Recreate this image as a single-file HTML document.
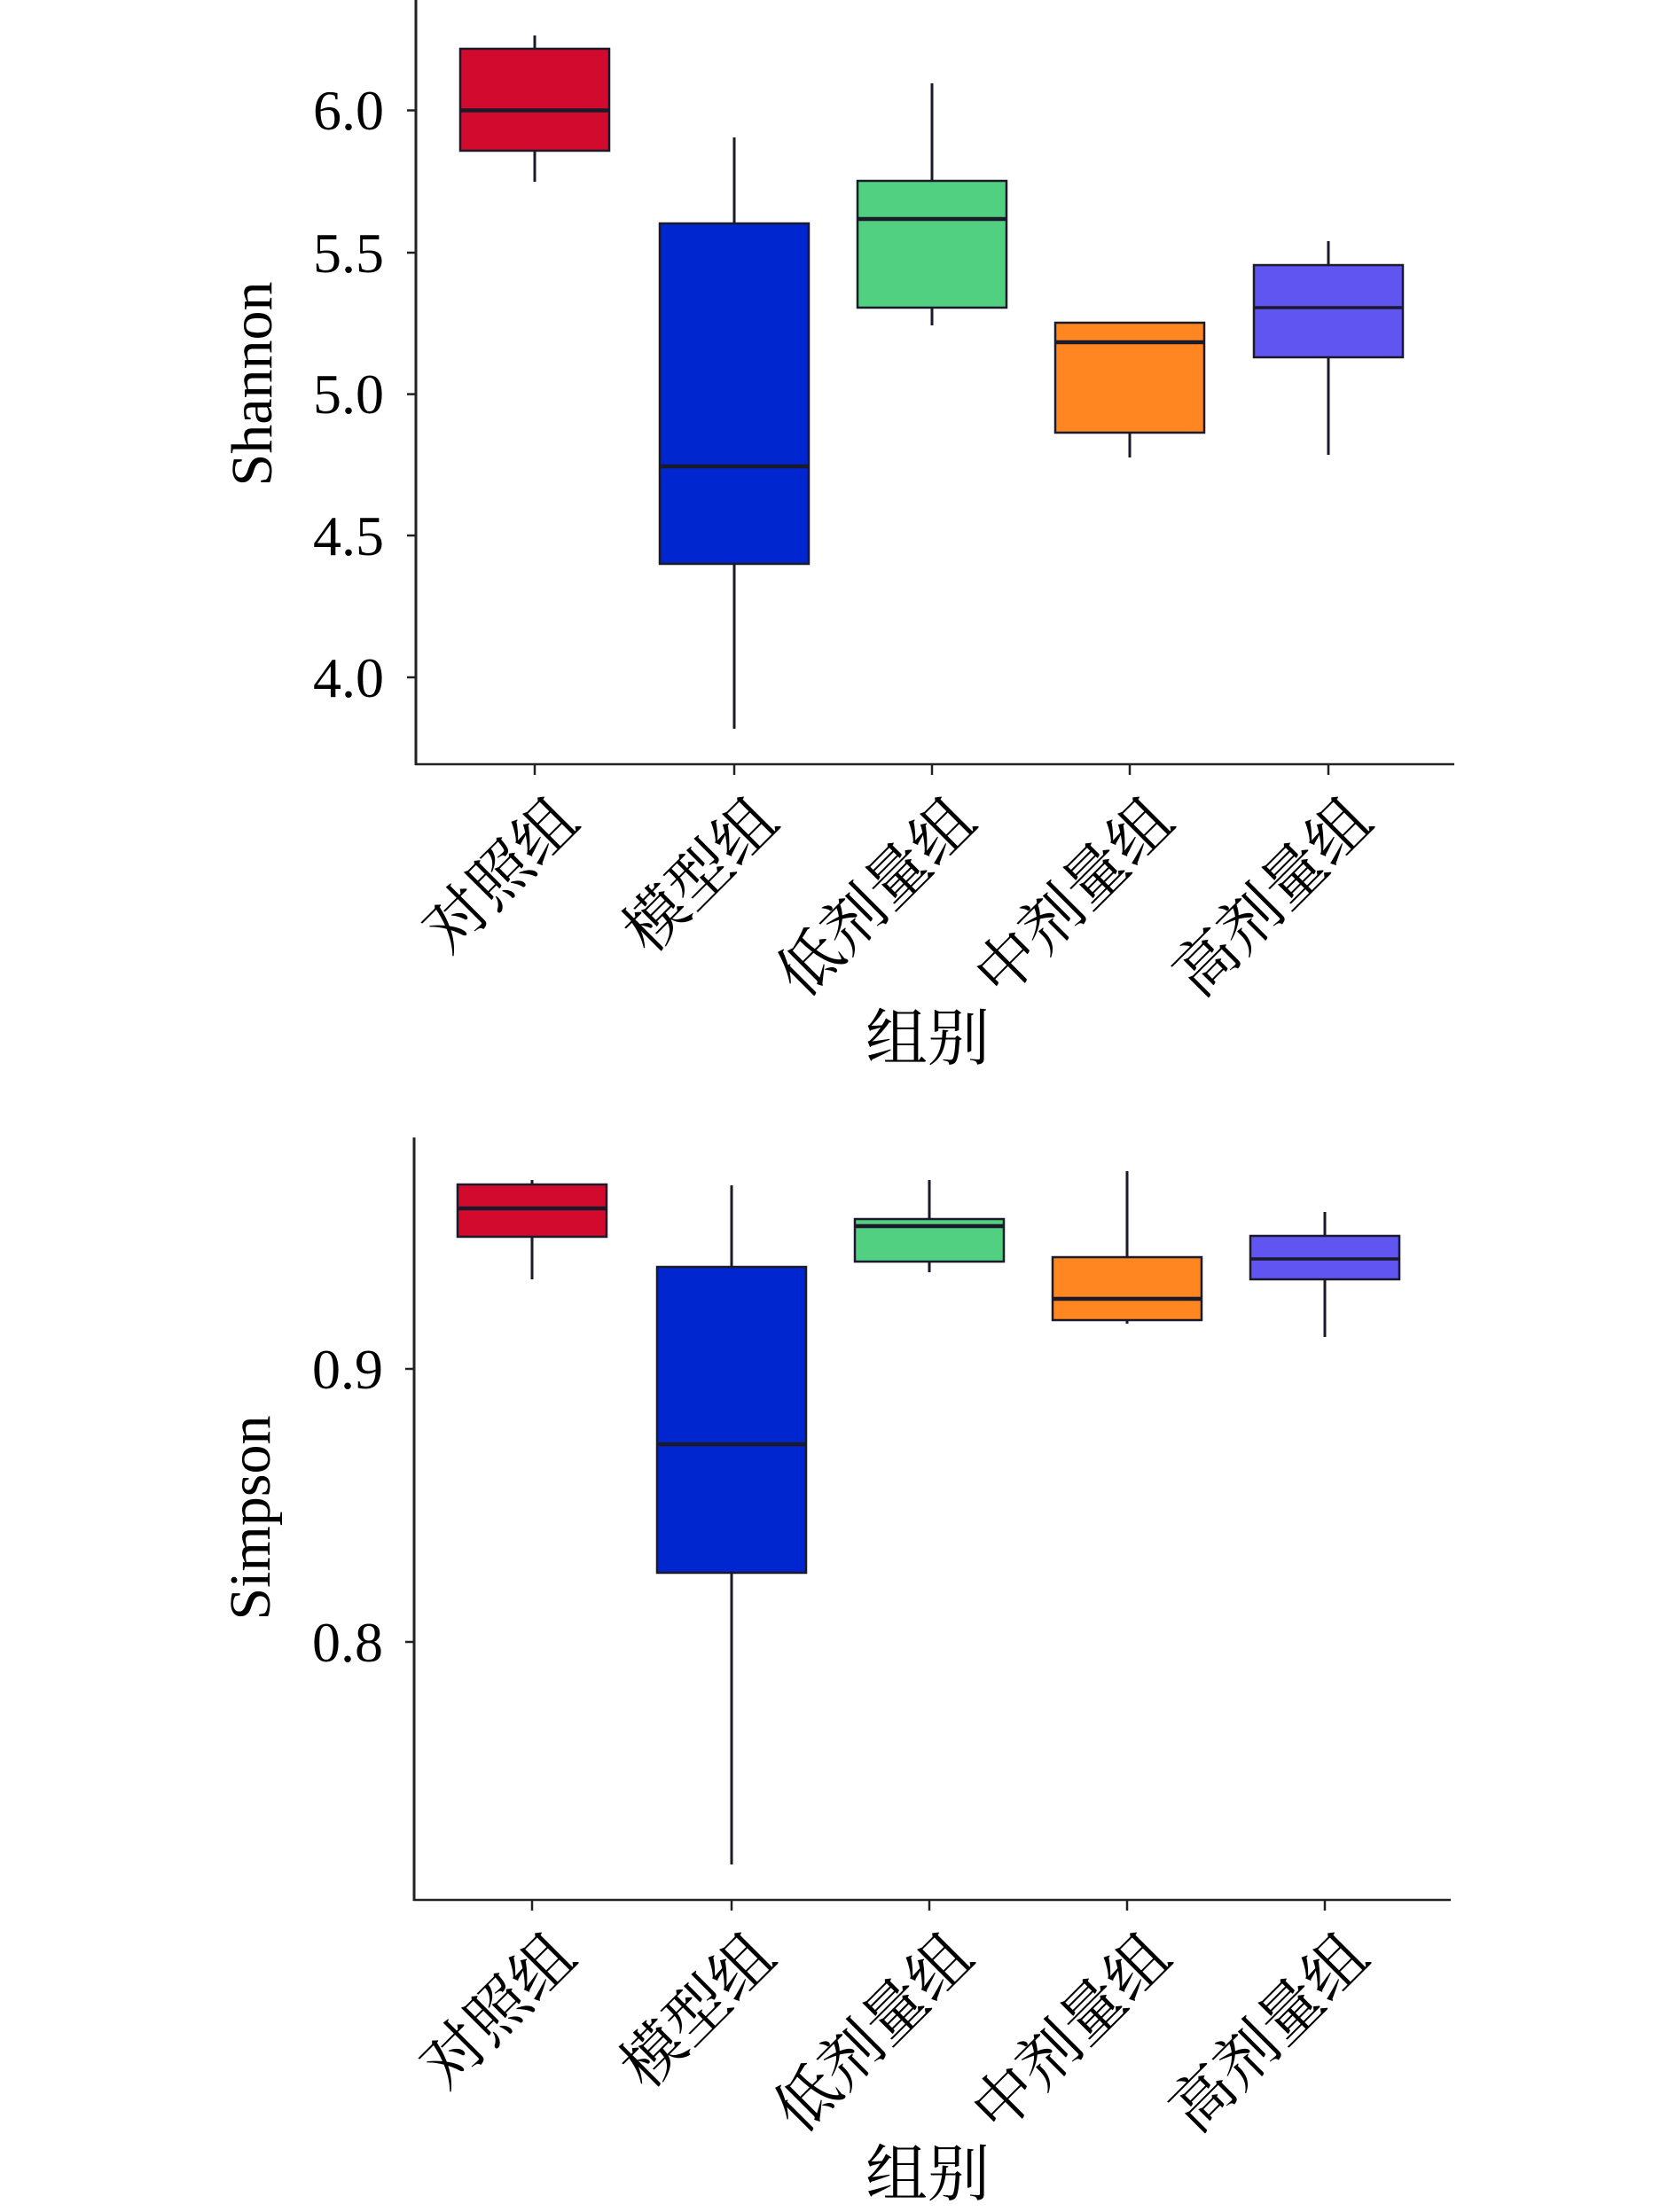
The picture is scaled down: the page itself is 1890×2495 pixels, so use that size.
<!DOCTYPE html>
<html><head><meta charset="utf-8"><style>html,body{margin:0;padding:0;background:#fff}svg{display:block}</style></head><body>
<svg width="1890" height="2495" viewBox="0 0 1890 2495" xmlns="http://www.w3.org/2000/svg">
<g font-family="Liberation Serif, serif" fill="#000">
<!-- TOP -->
<line x1="469" y1="0" x2="469" y2="863" stroke="#222" stroke-width="3"/>
<line x1="468" y1="862" x2="1640" y2="862" stroke="#222" stroke-width="2.5"/>
<g stroke="#222" stroke-width="2.5">
<line x1="459" y1="124.5" x2="469" y2="124.5"/><line x1="459" y1="285" x2="469" y2="285"/><line x1="459" y1="444.6" x2="469" y2="444.6"/><line x1="459" y1="604" x2="469" y2="604"/><line x1="459" y1="764" x2="469" y2="764"/>
<line x1="603" y1="862" x2="603" y2="874"/><line x1="828" y1="862" x2="828" y2="874"/><line x1="1051" y1="862" x2="1051" y2="874"/><line x1="1274" y1="862" x2="1274" y2="874"/><line x1="1498" y1="862" x2="1498" y2="874"/>
</g>
<g font-size="64" text-anchor="end">
<text x="433" y="146">6.0</text><text x="433" y="307">5.5</text><text x="433" y="466">5.0</text><text x="433" y="626">4.5</text><text x="433" y="786">4.0</text>
</g>
<text x="0" y="0" font-size="66" text-anchor="middle" transform="translate(306,433) rotate(-90)">Shannon</text>
<g stroke="#1a1a2a" stroke-width="3">
<line x1="603" y1="40" x2="603" y2="205"/>
<rect x="519" y="55" width="168" height="115" fill="#d20a2e" stroke-width="2.5"/>
<line x1="519" y1="124.5" x2="687" y2="124.5" stroke-width="4.5"/>
<line x1="828" y1="155" x2="828" y2="822"/>
<rect x="744" y="252" width="168" height="384" fill="#0026d0" stroke-width="2.5"/>
<line x1="744" y1="526" x2="912" y2="526" stroke-width="4.5"/>
<line x1="1051" y1="94" x2="1051" y2="367"/>
<rect x="967" y="204" width="168" height="143" fill="#50d080" stroke-width="2.5"/>
<line x1="967" y1="247" x2="1135" y2="247" stroke-width="4.5"/>
<line x1="1274" y1="488" x2="1274" y2="516"/>
<rect x="1190" y="364" width="168" height="124" fill="#ff8620" stroke-width="2.5"/>
<line x1="1190" y1="386" x2="1358" y2="386" stroke-width="4.5"/>
<line x1="1498" y1="272" x2="1498" y2="513"/>
<rect x="1414" y="299" width="168" height="104" fill="#6055f0" stroke-width="2.5"/>
<line x1="1414" y1="347" x2="1582" y2="347" stroke-width="3.5"/>
</g>
<g font-family="Liberation Serif, 'Noto Serif CJK SC', 'Noto Sans CJK SC', serif" font-size="70" text-anchor="end" dominant-baseline="central">
<text transform="translate(640,914) rotate(-45)">对照组</text>
<text transform="translate(865,914) rotate(-45)">模型组</text>
<text transform="translate(1088,914) rotate(-45)">低剂量组</text>
<text transform="translate(1311,914) rotate(-45)">中剂量组</text>
<text transform="translate(1535,914) rotate(-45)">高剂量组</text>
</g>
<text x="1046" y="1195" text-anchor="middle" font-size="70" font-family="Liberation Serif, 'Noto Serif CJK SC', serif">组别</text>
<!-- BOTTOM -->
<line x1="467" y1="1283" x2="467" y2="2144" stroke="#222" stroke-width="3"/>
<line x1="466" y1="2143" x2="1636" y2="2143" stroke="#222" stroke-width="2.5"/>
<g stroke="#222" stroke-width="2.5">
<line x1="457" y1="1544" x2="467" y2="1544"/><line x1="457" y1="1852" x2="467" y2="1852"/>
<line x1="600" y1="2143" x2="600" y2="2155"/><line x1="825" y1="2143" x2="825" y2="2155"/><line x1="1048" y1="2143" x2="1048" y2="2155"/><line x1="1271" y1="2143" x2="1271" y2="2155"/><line x1="1494" y1="2143" x2="1494" y2="2155"/>
</g>
<g font-size="64" text-anchor="end">
<text x="432" y="1566">0.9</text><text x="432" y="1874">0.8</text>
</g>
<text x="0" y="0" font-size="66" text-anchor="middle" transform="translate(304,1712) rotate(-90)">Simpson</text>
<g stroke="#1a1a2a" stroke-width="3">
<line x1="600" y1="1331" x2="600" y2="1443"/>
<rect x="516" y="1336" width="168" height="59" fill="#d20a2e" stroke-width="2.5"/>
<line x1="516" y1="1363" x2="684" y2="1363" stroke-width="4.5"/>
<line x1="825" y1="1337" x2="825" y2="2103"/>
<rect x="741" y="1429" width="168" height="345" fill="#0026d0" stroke-width="2.5"/>
<line x1="741" y1="1629" x2="909" y2="1629" stroke-width="4.5"/>
<line x1="1048" y1="1331" x2="1048" y2="1435"/>
<rect x="964" y="1375" width="168" height="48" fill="#50d080" stroke-width="2.5"/>
<line x1="964" y1="1383" x2="1132" y2="1383" stroke-width="4.5"/>
<line x1="1271" y1="1321" x2="1271" y2="1493"/>
<rect x="1187" y="1418" width="168" height="71" fill="#ff8620" stroke-width="2.5"/>
<line x1="1187" y1="1465" x2="1355" y2="1465" stroke-width="4.5"/>
<line x1="1494" y1="1367" x2="1494" y2="1508"/>
<rect x="1410" y="1394" width="168" height="49" fill="#6055f0" stroke-width="2.5"/>
<line x1="1410" y1="1420" x2="1578" y2="1420" stroke-width="3.5"/>
</g>
<g font-family="Liberation Serif, 'Noto Serif CJK SC', 'Noto Sans CJK SC', serif" font-size="70" text-anchor="end" dominant-baseline="central">
<text transform="translate(637,2195) rotate(-45)">对照组</text>
<text transform="translate(862,2195) rotate(-45)">模型组</text>
<text transform="translate(1085,2195) rotate(-45)">低剂量组</text>
<text transform="translate(1308,2195) rotate(-45)">中剂量组</text>
<text transform="translate(1531,2195) rotate(-45)">高剂量组</text>
</g>
<text x="1046" y="2476" text-anchor="middle" font-size="70" font-family="Liberation Serif, 'Noto Serif CJK SC', serif">组别</text>
</g>
</svg>
</body></html>
